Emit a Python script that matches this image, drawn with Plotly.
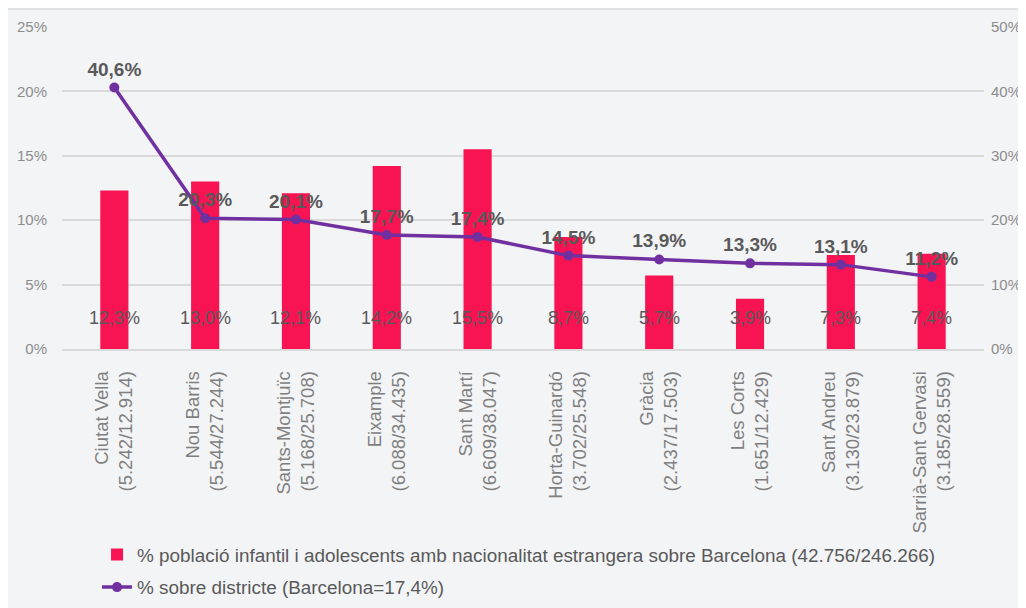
import plotly.graph_objects as go

districts = ["Ciutat Vella", "Nou Barris", "Sants-Montjuïc", "Eixample", "Sant Martí",
             "Horta-Guinardó", "Gràcia", "Les Corts", "Sant Andreu", "Sarrià-Sant Gervasi"]
counts = ["(5.242/12.914)", "(5.544/27.244)", "(5.168/25.708)", "(6.088/34.435)", "(6.609/38.047)",
          "(3.702/25.548)", "(2.437/17.503)", "(1.651/12.429)", "(3.130/23.879)", "(3.185/28.559)"]
share_bcn = [12.3, 13.0, 12.1, 14.2, 15.5, 8.7, 5.7, 3.9, 7.3, 7.4]
share_district = [40.6, 20.3, 20.1, 17.7, 17.4, 14.5, 13.9, 13.3, 13.1, 11.2]
left_ticks = [0, 5, 10, 15, 20, 25]
right_ticks = [0, 10, 20, 30, 40, 50]

bar_name = "% població infantil i adolescents amb nacionalitat estrangera sobre Barcelona (42.756/246.266)"
line_name = "% sobre districte (Barcelona=17,4%)"

cats = [f"{d}<br>{c}" for d, c in zip(districts, counts)]

FONT = "Liberation Sans, Arial, sans-serif"

def pct(v):
    return f"{v:.1f}%".replace(".", ",")

fig = go.Figure()
fig.add_trace(go.Bar(
    x=cats, y=share_bcn, name=bar_name, legendgroup="a",
    marker=dict(color="#F81452", line=dict(width=0)),
    width=0.31,
    yaxis="y",
))
fig.add_trace(go.Scatter(
    x=cats, y=share_district, name=line_name, legendgroup="b",
    mode="lines+markers+text",
    line=dict(color="#7030A0", width=3.5),
    marker=dict(color="#7030A0", size=10),
    text=[f"<b>{pct(v)}</b>" for v in share_district],
    textposition="top center",
    textfont=dict(color="#595959", size=19, family=FONT),
    yaxis="y2",
))

# bar value labels near the base of each bar
for c, v in zip(cats, share_bcn):
    fig.add_annotation(x=c, y=0, xref="x", yref="y", text=pct(v), showarrow=False,
                       yanchor="middle", yshift=31,
                       font=dict(color="#595959", size=18, family=FONT))

fig.add_shape(type="rect", xref="paper", yref="paper",
              x0=-0.0597, x1=1.2, y0=-1.3, y1=1.056,
              fillcolor="#F3F4F6", line=dict(color="#D9D9D9", width=1.5), layer="below")

fig.update_layout(
    width=1018, height=600,
    margin=dict(l=54, r=42, t=19, b=259, autoexpand=False),
    paper_bgcolor="white", plot_bgcolor="rgba(0,0,0,0)",
    font=dict(family=FONT, color="#7F7F7F"),
    showlegend=True,
    legend=dict(x=0.038, y=-0.58, xanchor="left", yanchor="top",
                orientation="v", bgcolor="rgba(0,0,0,0)",
                font=dict(size=18.9, color="#595959", family=FONT),
                tracegroupgap=5, itemwidth=30),
    xaxis=dict(tickangle=-90, tickfont=dict(size=18.5, color="#7F7F7F", family=FONT),
               ticklabelstandoff=13,
               showgrid=False, showline=True, linecolor="#D9D9D9", linewidth=1.5, ticks=""),
    yaxis=dict(range=[0, 25], tickvals=left_ticks, ticktext=[f"{v}%" for v in left_ticks],
               tickfont=dict(size=15, color="#8C8C8C"), gridcolor="#D9D9D9", gridwidth=1.5,
               ticklabelstandoff=14, zeroline=False, showline=False),
    yaxis2=dict(range=[0, 50], tickvals=right_ticks, ticktext=[f"{v}%" for v in right_ticks],
                overlaying="y", side="right", ticklabelstandoff=6,
                tickfont=dict(size=15, color="#8C8C8C"), showgrid=False, zeroline=False, showline=False),
)

fig.write_html("out.html")
